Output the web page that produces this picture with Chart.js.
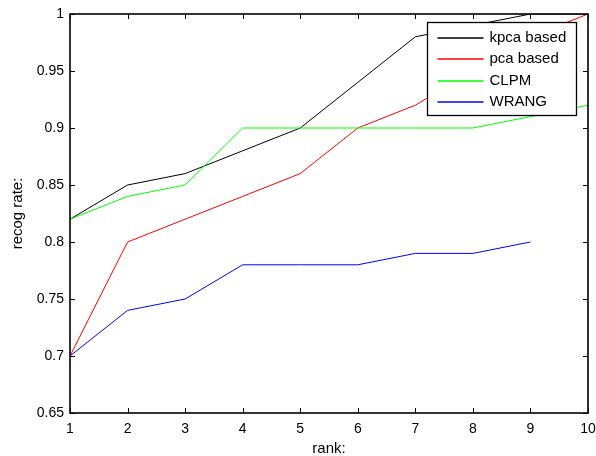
<!DOCTYPE html>
<html>
<head>
<meta charset="utf-8">
<script src="https://cdn.jsdelivr.net/npm/chart.js@4.4.1/dist/chart.umd.min.js"></script>
<style>
html,body{margin:0;padding:0;background:#fff;}
#wrap{width:596px;height:456px;position:relative;}
</style>
</head>
<body>
<div id="wrap"><canvas id="c" width="596" height="456"></canvas></div>
<script>
// ---- data ----
const ranks = [1, 2, 3, 4, 5, 6, 7, 8, 9, 10];
const kpcaBased = [0.82, 0.85, 0.86, 0.88, 0.90, 0.94, 0.98, 0.99, 1.00, 1.00];
const pcaBased  = [0.70, 0.80, 0.82, 0.84, 0.86, 0.90, 0.92, 0.95, 0.98, 1.00];
const clpm      = [0.82, 0.84, 0.85, 0.90, 0.90, 0.90, 0.90, 0.90, 0.91, 0.92];
const wrang     = [0.70, 0.74, 0.75, 0.78, 0.78, 0.78, 0.79, 0.79, 0.80, null];
const seriesNames = ['kpca based', 'pca based', 'CLPM', 'WRANG'];
const seriesValues = [kpcaBased, pcaBased, clpm, wrang];
const seriesColors = ['#000000', '#ff0000', '#00ff00', '#0000ff'];
const xTickValues = [1, 2, 3, 4, 5, 6, 7, 8, 9, 10];
const yTickValues = [0.65, 0.7, 0.75, 0.8, 0.85, 0.9, 0.95, 1];
const xTitle = 'rank:';
const yTitle = 'recog rate:';

const FONT = '"Liberation Sans", Arial, Helvetica, sans-serif';

const datasets = seriesValues.map((vals, i) => ({
  label: seriesNames[i],
  data: ranks.map((r, j) => ({x: r, y: vals[j]})),
  borderColor: seriesColors[i],
  backgroundColor: seriesColors[i],
  borderWidth: 1,
  pointRadius: 0,
  tension: 0,
  fill: false,
  spanGaps: false,
  order: seriesValues.length - i
}));

const boxPlugin = {
  id: 'matlabBox',
  afterDatasetsDraw(chart) {
    const {ctx, chartArea: a, scales} = chart;
    ctx.save();
    ctx.strokeStyle = '#000';
    const L = Math.round(a.left), R = Math.round(a.right);
    const T = Math.round(a.top), B = Math.round(a.bottom);
    ctx.lineWidth = 1;
    const tl = 5;
    ctx.beginPath();
    xTickValues.forEach(v => {
      const px = Math.round(scales.x.getPixelForValue(v)) + 0.5;
      ctx.moveTo(px, B); ctx.lineTo(px, B - tl);
      ctx.moveTo(px, T); ctx.lineTo(px, T + tl);
    });
    yTickValues.forEach(v => {
      const py = Math.round(scales.y.getPixelForValue(v)) + 0.5;
      ctx.moveTo(L, py); ctx.lineTo(L + tl, py);
      ctx.moveTo(R, py); ctx.lineTo(R - tl, py);
    });
    ctx.stroke();
    ctx.lineWidth = 1.6;
    ctx.strokeRect(L, T, R - L, B - T);
    ctx.restore();
  },
  afterDraw(chart) {
    const {ctx, chartArea: a} = chart;
    const w = 149, h = 93;
    const bx = Math.round(a.right) - 12 - w + 0.5;
    const by = Math.round(a.top) + 8 + 0.5;
    ctx.save();
    ctx.fillStyle = '#fff';
    ctx.fillRect(bx, by, w, h);
    ctx.strokeStyle = '#000';
    ctx.lineWidth = 1.3;
    ctx.strokeRect(bx, by, w, h);
    ctx.font = '15px ' + FONT;
    ctx.textBaseline = 'middle';
    ctx.textAlign = 'left';
    chart.data.datasets.forEach((ds, i) => {
      const y = Math.round(by + 15.5 + i * 21.3);
      ctx.beginPath();
      ctx.strokeStyle = seriesColors[i];
      ctx.lineWidth = 1.3;
      ctx.moveTo(bx + 10, y);
      ctx.lineTo(bx + 56, y);
      ctx.stroke();
      ctx.fillStyle = '#000';
      ctx.fillText(ds.label, bx + 62, y);
    });
    ctx.restore();
  }
};

new Chart(document.getElementById('c'), {
  type: 'line',
  data: {datasets},
  options: {
    responsive: false,
    animation: false,
    devicePixelRatio: 1,
    layout: {padding: {top: 14, right: 8, left: 0, bottom: 0}},
    plugins: {legend: {display: false}, tooltip: {enabled: false}},
    scales: {
      x: {
        type: 'linear',
        min: 1, max: 10,
        afterFit(s) { s.height = 43; s.paddingLeft = 0; s.paddingRight = 0; },
        afterBuildTicks(s) { s.ticks = xTickValues.map(v => ({value: v})); },
        ticks: {color: '#000', font: {family: FONT, size: 14}, padding: 8, maxRotation: 0,
                callback: v => String(v)},
        grid: {display: false, drawOnChartArea: false, drawTicks: false},
        border: {display: false},
        title: {display: true, text: xTitle, color: '#000', font: {family: FONT, size: 15},
                padding: {top: 0, bottom: -2}}
      },
      y: {
        type: 'linear',
        min: 0.65, max: 1,
        afterFit(s) { s.width = 70; s.paddingTop = 0; s.paddingBottom = 0; },
        afterBuildTicks(s) { s.ticks = yTickValues.map(v => ({value: v})); },
        ticks: {color: '#000', font: {family: FONT, size: 14}, padding: 6,
                callback: v => String(Number(v.toFixed(2)))},
        grid: {display: false, drawOnChartArea: false, drawTicks: false},
        border: {display: false},
        title: {display: true, text: yTitle, color: '#000', font: {family: FONT, size: 15},
                padding: {top: 9, bottom: 0}}
      }
    }
  },
  plugins: [boxPlugin]
});
</script>
</body>
</html>
